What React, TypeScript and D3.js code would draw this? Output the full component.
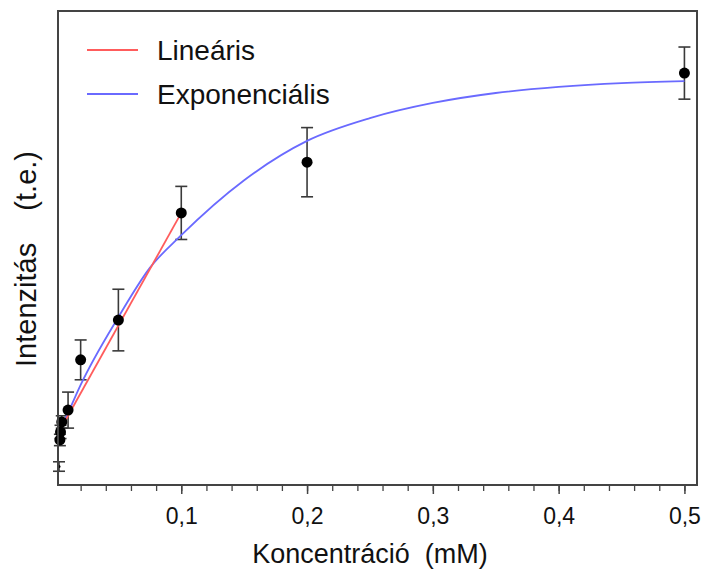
import React, { useEffect, useRef } from 'react';
import * as d3 from 'd3';

// measured points (concentration mM, intensity a.u., error)
const concentrations = [0.0035, 0.004, 0.005, 0.01, 0.02, 0.05, 0.1, 0.2, 0.5];
const intensities = [9.5, 11.2, 13.3, 15.8, 26.4, 34.8, 57.4, 68.1, 86.9];
const errors = [1.2, 1.4, 1.3, 3.8, 4.2, 6.5, 5.6, 7.3, 5.5];

// small marks near the axis
const lowConc = [0.0028];
const lowValues = [3.9];
const lowErrors = [1.0];

// linear fit
const linX = [0.003, 0.1];
const linY = [11.3, 57.4];

// exponential fit
const expX = [0.003, 0.01, 0.02, 0.05, 0.075, 0.1, 0.15, 0.2, 0.25, 0.3, 0.35, 0.4, 0.45, 0.5];
const expY = [11.2, 15.2, 21.1, 35.4, 45.8, 52.7, 64.3, 72.6, 77.4, 80.6, 82.7, 84.0, 84.8, 85.2];

const majorTicks = [0.1, 0.2, 0.3, 0.4, 0.5];
const minorTicks = d3.range(1, 26).map(i => i * 0.02);

const legendLabels = ['Lineáris', 'Exponenciális'];
const legendColors = ['#ff5c5c', '#6a6aff'];

const App = () => {
  const svgRef = useRef<SVGSVGElement>(null);

  useEffect(() => {
    const width = 707;
    const height = 571;
    const margin = { top: 11, right: 10, bottom: 86, left: 58 };
    const innerWidth = width - margin.left - margin.right;
    const innerHeight = height - margin.top - margin.bottom;
    const font = '"Liberation Sans", Arial, sans-serif';

    const root = d3.select(svgRef.current);
    root.selectAll('*').remove();

    const x = d3.scaleLinear().domain([0.002, 0.51]).range([0, innerWidth]);
    const y = d3.scaleLinear().domain([0, 100]).range([innerHeight, 0]);

    const svg = root.append('g').attr('transform', `translate(${margin.left},${margin.top})`);

    // ticks
    const minorAxis = svg.append('g')
      .attr('transform', `translate(0,${innerHeight})`)
      .call(d3.axisBottom(x).tickValues(minorTicks).tickSize(6).tickFormat(() => ''));
    minorAxis.select('.domain').remove();
    minorAxis.selectAll('line').attr('stroke', '#444').attr('stroke-width', 1.3);

    const majorAxis = svg.append('g')
      .attr('transform', `translate(0,${innerHeight})`)
      .call(d3.axisBottom(x).tickValues(majorTicks).tickSize(9).tickPadding(14)
        .tickFormat(d => d3.format('.1f')(d as number).replace('.', ',')));
    majorAxis.select('.domain').remove();
    majorAxis.selectAll('line').attr('stroke', '#444').attr('stroke-width', 1.5);
    majorAxis.selectAll('text')
      .attr('font-family', font)
      .attr('font-size', 23)
      .attr('fill', '#111');

    // error bars
    const allX = concentrations.concat(lowConc);
    const allY = intensities.concat(lowValues);
    const allE = errors.concat(lowErrors);
    const pts = allX.map((c, i) => ({ c, v: allY[i], e: allE[i], small: i >= concentrations.length }));
    const cap = 6;

    const eb = svg.append('g').attr('stroke', '#3a3a3a').attr('stroke-width', 1.6);
    pts.forEach(p => {
      const cx = x(p.c);
      eb.append('line').attr('x1', cx).attr('x2', cx).attr('y1', y(p.v - p.e)).attr('y2', y(p.v + p.e));
      eb.append('line').attr('x1', cx - cap).attr('x2', cx + cap).attr('y1', y(p.v - p.e)).attr('y2', y(p.v - p.e));
      eb.append('line').attr('x1', cx - cap).attr('x2', cx + cap).attr('y1', y(p.v + p.e)).attr('y2', y(p.v + p.e));
    });

    // fitted lines
    const line = d3.line<[number, number]>().x(d => x(d[0])).y(d => y(d[1]));
    svg.append('path')
      .datum(expX.map((v, i) => [v, expY[i]] as [number, number]))
      .attr('d', line.curve(d3.curveMonotoneX))
      .attr('fill', 'none')
      .attr('stroke', legendColors[1])
      .attr('stroke-width', 1.8);

    svg.append('path')
      .datum(linX.map((v, i) => [v, linY[i]] as [number, number]))
      .attr('d', d3.line<[number, number]>().x(d => x(d[0])).y(d => y(d[1])))
      .attr('fill', 'none')
      .attr('stroke', legendColors[0])
      .attr('stroke-width', 1.8);

    // points
    svg.selectAll('.pt')
      .data(pts)
      .enter()
      .append('circle')
      .attr('class', 'pt')
      .attr('cx', d => x(d.c))
      .attr('cy', d => y(d.v))
      .attr('r', d => (d.small ? 1.5 : 5.5))
      .attr('fill', '#000');

    // frame
    svg.append('rect')
      .attr('width', innerWidth)
      .attr('height', innerHeight)
      .attr('fill', 'none')
      .attr('stroke', '#444')
      .attr('stroke-width', 2);

    // legend
    legendLabels.forEach((label, i) => {
      const ly = 39 + i * 44;
      svg.append('line')
        .attr('x1', 29).attr('x2', 80)
        .attr('y1', ly).attr('y2', ly)
        .attr('stroke', legendColors[i])
        .attr('stroke-width', 1.8);
      svg.append('text')
        .attr('x', 99)
        .attr('y', ly + 10)
        .attr('font-family', font)
        .attr('font-size', 28)
        .attr('fill', '#111')
        .text(label);
    });

    // axis titles
    root.append('text')
      .attr('x', 370)
      .attr('y', 563)
      .attr('text-anchor', 'middle')
      .attr('font-family', font)
      .attr('font-size', 27)
      .attr('fill', '#111')
      .style('white-space', 'pre')
      .text('Koncentráció  (mM)');

    root.append('text')
      .attr('transform', 'translate(36,259) rotate(-90)')
      .attr('text-anchor', 'middle')
      .attr('font-family', font)
      .attr('font-size', 29)
      .attr('fill', '#111')
      .style('white-space', 'pre')
      .text('Intenzitás    (t.e.)');
  }, []);

  return (
    <svg
      ref={svgRef}
      width={707}
      height={571}
      style={{ position: 'absolute', left: 0, top: 0, background: '#fff' }}
    />
  );
};

export default App;
